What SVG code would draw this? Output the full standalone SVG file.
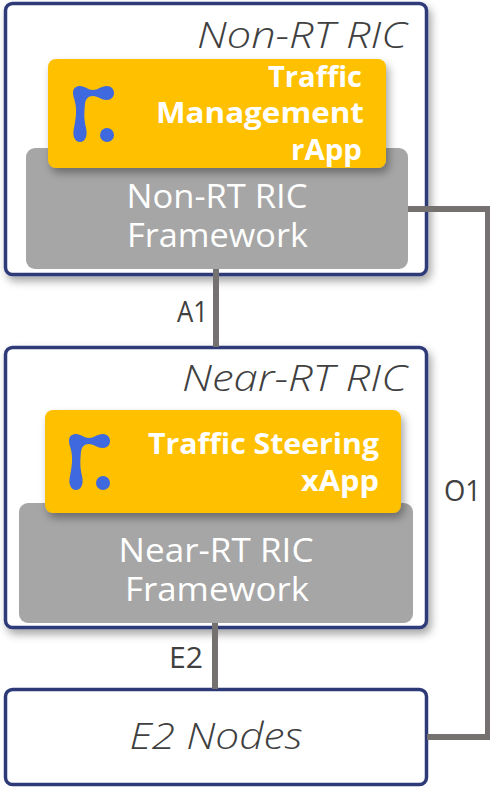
<svg xmlns="http://www.w3.org/2000/svg" width="490" height="787" viewBox="0 0 490 787">
<style>
text{font-family:"Open Sans","Liberation Sans",sans-serif}
.box{fill:#fff;stroke:#2e3a78;stroke-width:3.5}
.gray{fill:#a6a6a6}
.yel{fill:#ffc000}
.sh{filter:url(#s)}
.it{font-style:italic;font-size:36px;fill:#404040;font-weight:300}
.fw{font-size:32px;fill:#fff;text-anchor:middle;font-weight:400}
.ap{font-size:28px;fill:#fff;font-weight:700;text-anchor:end}
.lb{font-size:30px;fill:#404040}
.c{fill:none;stroke:#767171;stroke-width:6}
.logo{fill:#3f69de}
</style>
<defs>
<filter id="s" x="-10%" y="-10%" width="120%" height="125%"><feDropShadow dx="3" dy="5" stdDeviation="4" flood-color="#000" flood-opacity="0.35"/></filter>
<g id="logo"><path class="logo" d="M0 7C0 2 3 0 7 0C12 0 15 4 20 4C25 4 28 0 34 0C38 0 41 3 41 7C41 11 38 14 34 14C28 14 25 10 20 10C15 10 12.500 13 12 18C11 28 11 33 13 42C15 50 12 56 7 56C2 56 -1 50 1 42C3 32 4 24 2 16C1 12 0 10 0 7Z"/><circle class="logo" cx="34" cy="49" r="7"/></g>
</defs>
<g id="non-rt-ric"><rect class="box sh" x="5.500" y="3.500" width="421" height="271" rx="7"/><text class="it" x="407" y="48" text-anchor="end" textLength="210" lengthAdjust="spacingAndGlyphs">Non-RT RIC</text></g>
<g id="near-rt-ric"><rect class="box sh" x="5.500" y="347.500" width="421" height="280" rx="7"/><text class="it" x="407" y="391" text-anchor="end" textLength="225" lengthAdjust="spacingAndGlyphs">Near-RT RIC</text></g>
<g id="e2-nodes"><rect class="box" x="5.500" y="689.500" width="421" height="95" rx="7"/><text class="it" x="216" y="749" text-anchor="middle" textLength="173" lengthAdjust="spacingAndGlyphs">E2 Nodes</text></g>
<g id="connectors">
<path class="c" d="M216 269V347"/>
<path class="c" d="M215 623V689"/>
<path class="c" d="M408 209H488V737H427"/>
</g>
<g id="a1-label"><text class="lb" x="177" y="322" textLength="31" lengthAdjust="spacingAndGlyphs">A1</text></g>
<g id="e2-label"><text class="lb" x="169" y="668" textLength="34" lengthAdjust="spacingAndGlyphs">E2</text></g>
<g id="o1-label"><text class="lb" x="444" y="501" textLength="37" lengthAdjust="spacingAndGlyphs">O1</text></g>
<g id="non-rt-framework"><rect class="gray" x="26" y="148" width="382" height="121" rx="9"/><text class="fw" x="217" y="208" textLength="181" lengthAdjust="spacingAndGlyphs">Non-RT RIC</text><text class="fw" x="217.500" y="247" textLength="181" lengthAdjust="spacingAndGlyphs">Framework</text></g>
<g id="traffic-management-rapp"><rect class="yel sh" x="48" y="59" width="338" height="109" rx="8"/><use href="#logo" x="73" y="86"/><text class="ap" x="362" y="87" textLength="94" lengthAdjust="spacingAndGlyphs">Traffic</text><text class="ap" x="364" y="123" textLength="208" lengthAdjust="spacingAndGlyphs">Management</text><text class="ap" x="362" y="160" textLength="71" lengthAdjust="spacingAndGlyphs">rApp</text></g>
<g id="near-rt-framework"><rect class="gray" x="19" y="503" width="394" height="120" rx="9"/><text class="fw" x="216" y="562" textLength="195" lengthAdjust="spacingAndGlyphs">Near-RT RIC</text><text class="fw" x="217" y="601" textLength="184" lengthAdjust="spacingAndGlyphs">Framework</text></g>
<g id="traffic-steering-xapp"><rect class="yel sh" x="45" y="410" width="356" height="103" rx="8"/><use href="#logo" x="69" y="434"/><text class="ap" x="379" y="454" textLength="231" lengthAdjust="spacingAndGlyphs">Traffic Steering</text><text class="ap" x="379" y="491" textLength="78" lengthAdjust="spacingAndGlyphs">xApp</text></g>
</svg>
